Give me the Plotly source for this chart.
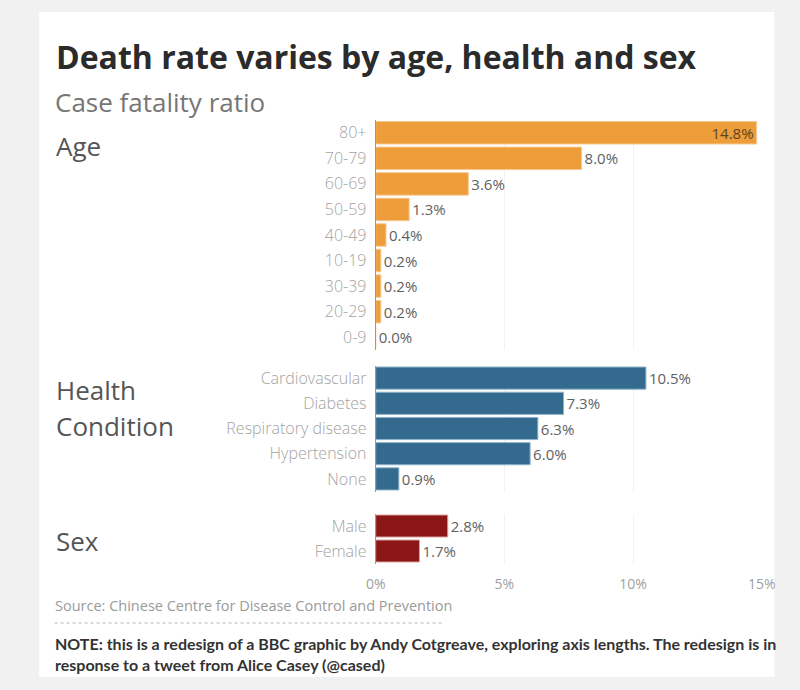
import plotly.graph_objects as go

# ---- data ----
age_groups = ["80+", "70-79", "60-69", "50-59", "40-49", "10-19", "30-39", "20-29", "0-9"]
age_rates = [14.8, 8.0, 3.6, 1.3, 0.4, 0.2, 0.2, 0.2, 0.0]

conditions = ["Cardiovascular", "Diabetes", "Respiratory disease", "Hypertension", "None"]
condition_rates = [10.5, 7.3, 6.3, 6.0, 0.9]

sexes = ["Male", "Female"]
sex_rates = [2.8, 1.7]

x_ticks = [0, 5, 10, 15]
x_tick_labels = ["0%", "5%", "10%", "15%"]

W, H = 800, 690
FONT = "Open Sans"
NOTE_FONT = "Lato"

def py(px):
    return 1 - px / H

def pxx(px):
    return px / W

x_domain = [pxx(377), pxx(775)]

sections = [
    dict(cats=age_groups, vals=age_rates, color="#EE9D3B", line="#F6C991",
         dom=[py(350), py(120)], txtinside=[0]),
    dict(cats=conditions, vals=condition_rates, color="#336A8E", line="#8FB4CC",
         dom=[py(491.5), py(365.5)], txtinside=[]),
    dict(cats=sexes, vals=sex_rates, color="#8A1616", line="#D9A0A0",
         dom=[py(563.5), py(513.5)], txtinside=[]),
]

fig = go.Figure()

for i, s in enumerate(sections):
    n = i + 1
    xa = "x" if n == 1 else f"x{n}"
    ya = "y" if n == 1 else f"y{n}"
    positions = ["inside" if k in s["txtinside"] else "outside" for k in range(len(s["vals"]))]
    fig.add_trace(go.Bar(
        x=s["vals"], y=s["cats"], orientation="h",
        xaxis=xa, yaxis=ya,
        marker=dict(color=s["color"], line=dict(color=s["line"], width=1)),
        text=[f"{v:.1f}%" for v in s["vals"]],
        textposition=positions,
        insidetextanchor="end",
        textangle=0,
        constraintext="none",
        cliponaxis=False,
        insidetextfont=dict(family=FONT, size=15, color="#5b4320"),
        outsidetextfont=dict(family=FONT, size=15, color="#5f5f5f"),
        hoverinfo="skip",
        showlegend=False,
    ))
    xkey = "xaxis" if n == 1 else f"xaxis{n}"
    ykey = "yaxis" if n == 1 else f"yaxis{n}"
    last = (n == len(sections))
    fig.layout[xkey] = dict(
        domain=x_domain, anchor=ya, range=[0, 15],
        tickvals=x_ticks, ticktext=x_tick_labels,
        showticklabels=last,
        ticks="outside" if last else "", ticklen=8, tickcolor="rgba(0,0,0,0)",
        tickfont=dict(family=FONT, size=14, color="#a0a0a0"),
        showgrid=True, gridcolor="#f2f2f2", gridwidth=1,
        zeroline=False, showline=False, fixedrange=True,
    )
    fig.layout[ykey] = dict(
        domain=s["dom"], anchor=xa,
        categoryorder="array", categoryarray=s["cats"],
        autorange="reversed",
        showline=True, linecolor="#9a9a9a", linewidth=1,
        ticks="", ticklabelstandoff=5,
        tickfont=dict(family=FONT, size=16, color="#a3a3a3", weight=300),
        showgrid=False, zeroline=False, fixedrange=True,
    )

fig.update_layout(
    width=W, height=H,
    margin=dict(l=0, r=0, t=0, b=0),
    paper_bgcolor="#f1f1f1",
    plot_bgcolor="rgba(0,0,0,0)",
    bargap=0.12,
    shapes=[
        dict(type="rect", xref="paper", yref="paper",
             x0=pxx(30), x1=pxx(788), y0=py(677), y1=py(12),
             fillcolor="white", line=dict(width=0), layer="below"),
        dict(type="line", xref="paper", yref="paper",
             x0=pxx(46), x1=pxx(448), y0=py(623), y1=py(623),
             line=dict(color="#b5b5b5", width=1, dash="dot")),
    ],
)

def note(text, x, y, size, color, bold=False, family=FONT, weight=None):
    f = dict(family=family, size=size, color=color)
    if weight:
        f["weight"] = weight
    fig.add_annotation(
        text=f"<b>{text}</b>" if bold else text,
        xref="paper", yref="paper", x=pxx(x), y=py(y),
        xanchor="left", yanchor="middle", showarrow=False, align="left",
        font=f,
    )

note("Death rate varies by age, health and sex", 45, 57, 32, "#2b2b2b", bold=True)
note("Case fatality ratio", 44, 102, 26, "#767676")
note("Age", 45, 146, 26, "#555555", weight=500)
note("Health", 45, 390, 26, "#555555", weight=500)
note("Condition", 45, 426, 26, "#555555", weight=500)
note("Sex", 45, 541, 26, "#555555", weight=500)
note("Source: Chinese Centre for Disease Control and Prevention", 44, 605, 14.5, "#9a9a9a")
note("NOTE: this is a redesign of a BBC graphic by Andy Cotgreave, exploring axis lengths. The redesign is in<br>"
     "response to a tweet from Alice Casey (@cased)", 44, 654, 16, "#333333", bold=True, family=NOTE_FONT)

fig.write_html(
    "out.html",
    config={"displayModeBar": False},
    post_script="document.body.style.margin='0';document.body.style.overflow='hidden';",
)
